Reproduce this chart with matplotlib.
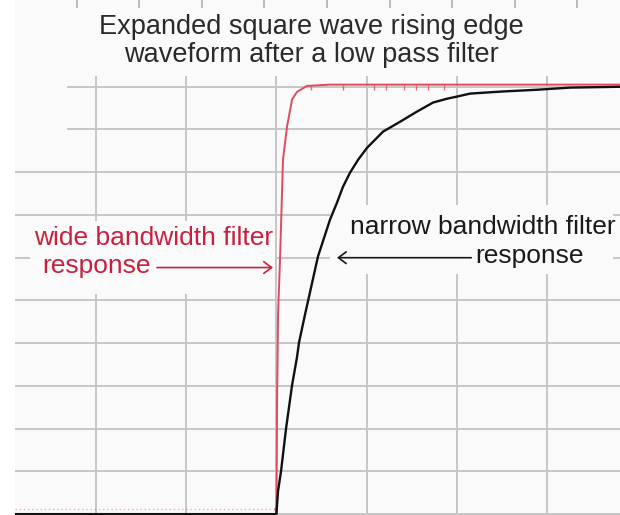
import matplotlib
matplotlib.use('Agg')
import matplotlib.pyplot as plt
from matplotlib.patches import Rectangle

# time in grid divisions, amplitude normalised (1.0 = top of the step)
red_t = [1.99, 2.001, 2.007, 2.018, 2.040, 2.073, 2.118, 2.173, 2.228, 2.339, 2.594, 5.81]
red_v = [0.012, 0.0, 0.264, 0.467, 0.596, 0.829, 0.907, 0.970, 0.988, 1.002, 1.005, 1.005]

# noisy pre-edge baseline of the wide response
red_base_t = [-0.90, 1.99]
red_base_v = [0.012, 0.012]

# little noise spikes on the flat top of the wide response
red_spike_t = [2.384, 2.739, 3.082, 3.215, 3.415, 3.548, 3.681, 3.858]

black_t = [-0.90, 2.000, 2.018, 2.051, 2.106, 2.173, 2.228, 2.251, 2.317, 2.461, 2.594, 2.672,
           2.738, 2.816, 2.905, 3.004, 3.182, 3.370, 3.559, 3.736, 3.891, 4.002, 4.146, 4.512,
           4.889, 5.255, 5.81]
black_v = [0.0, 0.0, 0.054, 0.100, 0.199, 0.301, 0.367, 0.402, 0.467, 0.603, 0.689, 0.729,
           0.766, 0.799, 0.829, 0.857, 0.895, 0.918, 0.942, 0.963, 0.972, 0.977, 0.984, 0.989,
           0.993, 0.998, 1.000]

grid_t = [0, 1, 2, 3, 4, 5]
grid_v = [0.0, 0.1, 0.2, 0.3, 0.4, 0.5, 0.6, 0.7, 0.8, 0.9, 1.0]
top_ticks = [-0.216, 0.473, 1.175, 1.857, 2.561, 3.259, 3.943, 4.645, 5.327]

title_lines = ['Expanded square wave rising edge', 'waveform after a low pass filter']

plt.rcParams['font.family'] = ['Liberation Sans', 'DejaVu Sans']

bg = '#fafafa'
gridc = '#c6c6c6'
red_txt = '#c8203f'
red_line = '#e04a5c'

fig = plt.figure(figsize=(6.2, 5.15), dpi=100)
ax = fig.add_axes([15 / 620, 0, 605 / 620, 1])
ax.set_facecolor(bg)
ax.set_xlim(-0.898, 5.809)
ax.set_ylim(-0.002, 1.203)
for s in ax.spines.values():
    s.set_visible(False)
ax.set_xticks([])
ax.set_yticks([])

# grid
for v in grid_v:
    x0 = -0.32 if v >= 0.9 else -0.898
    ax.hlines(v, x0, 5.809, color=gridc, lw=1.4, zorder=1)
ax.vlines(grid_t, 0, 1.026, color=gridc, lw=1.4, zorder=1)
ax.vlines(top_ticks, 1.185, 1.203, color='#b0b0b0', lw=1.2, zorder=1)

# label backgrounds hide the grid
ax.add_patch(Rectangle((-0.73, 0.514), 2.71, 0.171, facecolor=bg, edgecolor='none', zorder=2))
ax.add_patch(Rectangle((2.594, 0.561), 3.14, 0.163, facecolor=bg, edgecolor='none', zorder=2))

# traces
ax.plot(red_base_t, red_base_v, color=red_line, lw=1.0, ls=(0, (1, 2)), alpha=0.45, zorder=3)
ax.plot(red_t, red_v, color=red_line, lw=1.4, zorder=3)
ax.vlines(red_spike_t, 0.993, 1.005, color=red_line, lw=1.0, alpha=0.8, zorder=3)
ax.plot(black_t, black_v, color='#111111', lw=1.7, zorder=4)

# title
ax.text(2.384, 1.1227, title_lines[0], ha='center', va='baseline', fontsize=19.5, color='#2a2a2a', zorder=5)
ax.text(2.384, 1.0572, title_lines[1], ha='center', va='baseline', fontsize=19.5, color='#2a2a2a', zorder=5)

# wide bandwidth label
ax.text(-0.687, 0.6308, 'wide bandwidth filter', ha='left', va='baseline', fontsize=19, color=red_txt, zorder=5)
ax.text(-0.599, 0.5631, 'response', ha='left', va='baseline', fontsize=19, color=red_txt, zorder=5)
ax.annotate('', xy=(1.962, 0.577), xytext=(0.676, 0.577),
            arrowprops=dict(arrowstyle='->, head_length=0.4, head_width=0.3', color=red_txt,
                            lw=1.2, mutation_scale=14, shrinkA=0, shrinkB=0), zorder=5)

# narrow bandwidth label
ax.text(2.816, 0.6565, 'narrow bandwidth filter', ha='left', va='baseline', fontsize=19, color='#1a1a1a', zorder=5)
ax.text(4.202, 0.5888, 'response', ha='left', va='baseline', fontsize=19, color='#1a1a1a', zorder=5)
ax.annotate('', xy=(2.672, 0.600), xytext=(4.16, 0.600),
            arrowprops=dict(arrowstyle='->, head_length=0.4, head_width=0.3', color='#1a1a1a',
                            lw=1.2, mutation_scale=14, shrinkA=0, shrinkB=0), zorder=5)

fig.savefig('out.png', dpi=100)
